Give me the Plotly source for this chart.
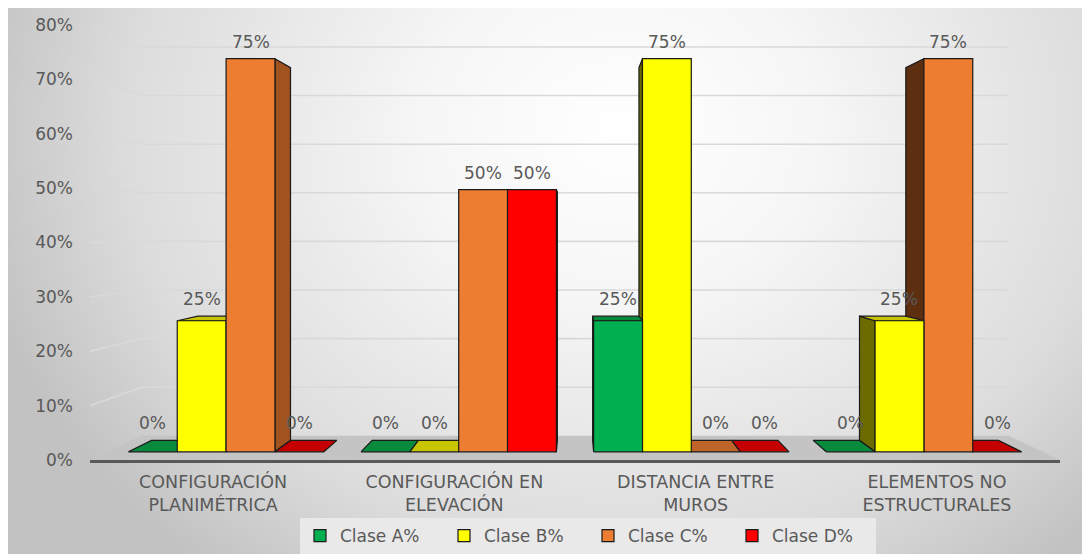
import plotly.graph_objects as go

# ---- data -------------------------------------------------------------
categories = [
    "CONFIGURACIÓN<br>PLANIMÉTRICA",
    "CONFIGURACIÓN EN<br>ELEVACIÓN",
    "DISTANCIA ENTRE<br>MUROS",
    "ELEMENTOS NO<br>ESTRUCTURALES",
]
series_names = ["Clase A%", "Clase B%", "Clase C%", "Clase D%"]
clase_a = [0.00, 0.00, 0.25, 0.00]
clase_b = [0.25, 0.00, 0.75, 0.25]
clase_c = [0.75, 0.50, 0.00, 0.75]
clase_d = [0.00, 0.50, 0.00, 0.00]
y_ticks = [0.0, 0.1, 0.2, 0.3, 0.4, 0.5, 0.6, 0.7, 0.8]

series_values = [clase_a, clase_b, clase_c, clase_d]

# face colours: front, top, right side, left side
palette = [
    ("#00b050", "#078a3c", "#00803a", "#006a2e"),
    ("#ffff00", "#c8c400", "#8a8a00", "#6b6b00"),
    ("#ed7d31", "#c0652a", "#a0521f", "#5e2e10"),
    ("#ff0000", "#c40000", "#a00000", "#700000"),
]

# ---- layout geometry --------------------------------------------------
W, H = 1082, 554
PX_LEFT, PX_RIGHT, PX_TOP, PX_BOTTOM = 90, 1060, 25, 460
X_RANGE = (-0.51, 3.51)
Y_RANGE = (0.0, 0.8)
VP = (1.5, 0.419)          # vanishing point of the perspective
D_FRONT, D_BACK, D_WALL = 0.036, 0.086, 0.106
BAR_W = 0.21
EDGE = "#1a1a1a"
TEXT = "#595959"
FONT = "DejaVu Sans"


def recede(x, y, d):
    return (x + d * (VP[0] - x), y + d * (VP[1] - y))


def polygon(points, fill, line_color=EDGE, line_width=1.2):
    xs = [p[0] for p in points] + [points[0][0]]
    ys = [p[1] for p in points] + [points[0][1]]
    return go.Scatter(
        x=xs, y=ys, xaxis="x2", yaxis="y2", mode="lines", fill="toself",
        fillcolor=fill, line=dict(color=line_color, width=line_width),
        hoverinfo="skip", showlegend=False,
    )


fig = go.Figure()

# ---- chart-area background (radial shading) ---------------------------
cx, cy, hx, hy = 620, 130, 660, 560
fig.add_trace(go.Scatter(
    x=[cx - hx, cx + hx, cx + hx, cx - hx, cx - hx],
    y=[cy - hy, cy - hy, cy + hy, cy + hy, cy - hy],
    xaxis="x", yaxis="y", mode="lines", fill="toself",
    line=dict(width=0),
    fillgradient=dict(type="radial", colorscale=[[0, "#ffffff"], [0.3, "#f6f6f6"], [0.75, "#dcdcdc"], [1, "#c2c2c2"]]),
    hoverinfo="skip", showlegend=False,
))

# ---- walls: gridlines on left wall and back wall ----------------------
gx, gy = [], []
for t in y_ticks[1:]:
    a = (X_RANGE[0], t)
    b = recede(X_RANGE[0], t, D_WALL)
    c = recede(X_RANGE[1], t, D_WALL)
    gx += [a[0], b[0], c[0], None]
    gy += [a[1], b[1], c[1], None]
fig.add_trace(go.Scatter(
    x=gx, y=gy, xaxis="x2", yaxis="y2", mode="lines",
    line=dict(color="#d9d9d9", width=1.6), hoverinfo="skip", showlegend=False,
))

# ---- floor ------------------------------------------------------------
floor = [
    (X_RANGE[0], 0.0), (X_RANGE[1], 0.0),
    recede(X_RANGE[1], 0.0, D_WALL), recede(X_RANGE[0], 0.0, D_WALL),
]
fig.add_trace(polygon(floor, "#c4c4c4", line_color="rgba(0,0,0,0)", line_width=0))

# ---- 3D columns -------------------------------------------------------
bars = []
for s, values in enumerate(series_values):
    for g, v in enumerate(values):
        xc = g + (s - 1.5) * BAR_W
        bars.append((s, g, v, xc - BAR_W / 2, xc + BAR_W / 2, xc))

# farthest from the vanishing point first
bars.sort(key=lambda b: -abs(b[5] - VP[0]))

for s, g, v, x0, x1, xc in bars:
    front, top, side_r, side_l = palette[s]
    if v > 0:
        if x1 < VP[0]:
            side = [recede(x1, 0, D_FRONT), recede(x1, 0, D_BACK),
                    recede(x1, v, D_BACK), recede(x1, v, D_FRONT)]
            fig.add_trace(polygon(side, side_r))
        elif x0 > VP[0]:
            side = [recede(x0, 0, D_FRONT), recede(x0, 0, D_BACK),
                    recede(x0, v, D_BACK), recede(x0, v, D_FRONT)]
            fig.add_trace(polygon(side, side_l))
    if v < VP[1]:
        lid = [recede(x0, v, D_FRONT), recede(x1, v, D_FRONT),
               recede(x1, v, D_BACK), recede(x0, v, D_BACK)]
        fig.add_trace(polygon(lid, top))
    if v > 0:
        face = [recede(x0, 0, D_FRONT), recede(x1, 0, D_FRONT),
                recede(x1, v, D_FRONT), recede(x0, v, D_FRONT)]
        fig.add_trace(polygon(face, front))

# ---- value labels -----------------------------------------------------
for s, g, v, x0, x1, xc in bars:
    lx, ly_front = recede(xc, v, D_FRONT)
    ly_back = recede(xc, v, D_BACK)[1]
    fig.add_annotation(
        x=lx, y=max(ly_front, ly_back), xref="x2", yref="y2",
        text=f"{v:.0%}", showarrow=False, yanchor="middle", yshift=17,
        font=dict(family=FONT, size=17, color=TEXT),
    )

# ---- legend entries ---------------------------------------------------
for s, name in enumerate(series_names):
    fig.add_trace(go.Scatter(
        x=[None], y=[None], xaxis="x2", yaxis="y2", mode="markers", name=name,
        marker=dict(symbol="square", size=12, color=palette[s][0],
                    line=dict(color=EDGE, width=1.2)),
    ))

fig.update_layout(
    width=W, height=H,
    margin=dict(l=0, r=0, t=0, b=0, pad=0),
    paper_bgcolor="#ffffff",
    plot_bgcolor="rgba(0,0,0,0)",
    xaxis=dict(domain=[8 / W, 1], range=[8, W], visible=False, fixedrange=True, automargin=False),
    yaxis=dict(domain=[0, (H - 8) / H], range=[H, 8], visible=False, fixedrange=True, automargin=False),
    xaxis2=dict(
        domain=[PX_LEFT / W, PX_RIGHT / W], range=list(X_RANGE), anchor="y2",
        tickvals=list(range(len(categories))), ticktext=categories,
        showgrid=False, zeroline=False, showline=True, linecolor="#595959", linewidth=2.5,
        ticks="", ticklabelstandoff=4, automargin=False,
        tickfont=dict(family=FONT, size=17.5, color=TEXT),
    ),
    yaxis2=dict(
        domain=[(H - PX_BOTTOM) / H, (H - PX_TOP) / H], range=list(Y_RANGE), anchor="x2",
        tickvals=y_ticks, tickformat=".0%",
        showgrid=False, zeroline=False, showline=False,
        ticks="", ticklabelstandoff=16, automargin=False,
        tickfont=dict(family=FONT, size=17, color=TEXT),
    ),
    legend=dict(
        orientation="h", x=588 / W, xanchor="center", y=0, yanchor="bottom",
        bgcolor="#e9e9e9", font=dict(family=FONT, size=17, color=TEXT),
        itemclick=False, itemdoubleclick=False, itemwidth=30,
        entrywidth=99, entrywidthmode="pixels",
    ),
    showlegend=True,
)

fig.write_html("out.html")
